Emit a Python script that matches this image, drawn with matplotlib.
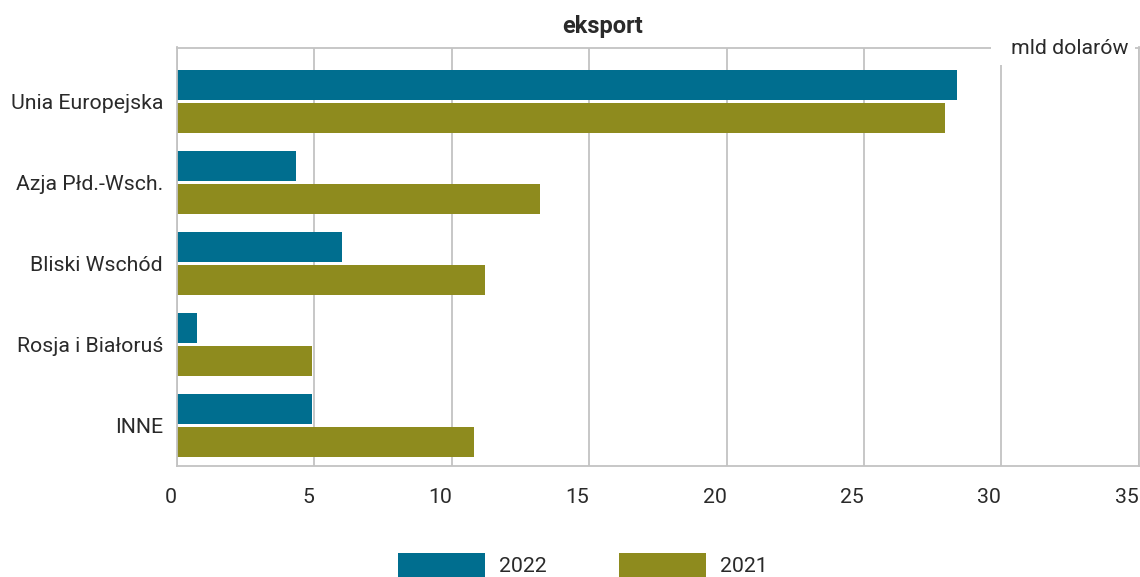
import matplotlib
matplotlib.use("Agg")
import matplotlib.pyplot as plt
from matplotlib.patches import Rectangle
import numpy as np

plt.rcParams['font.family'] = ['Roboto', 'DejaVu Sans']

categories = ["Unia Europejska", "Azja Płd.-Wsch.", "Bliski Wschód", "Rosja i Białoruś", "INNE"]
values_2022 = [28.4, 4.33, 6.0, 0.73, 4.9]
values_2021 = [27.95, 13.2, 11.2, 4.9, 10.8]
series_labels = ["2022", "2021"]
xticks = [0, 5, 10, 15, 20, 25, 30, 35]

c22 = "#006E8F"
c21 = "#8E8B1E"
grid_c = "#C3C3C3"
txt_c = "#2A2A2A"
fs = 15.3

W, H = 1140, 577
fig = plt.figure(figsize=(W / 100, H / 100), dpi=100)
ax = fig.add_axes([177 / W, 1 - 466 / H, (1138.7 - 177) / W, (466 - 47.5) / H])

y = np.arange(len(categories))
off = 0.204
h = 0.37
ax.barh(y - off, values_2022, height=h, color=c22, label=series_labels[0], zorder=2)
ax.barh(y + off, values_2021, height=h, color=c21, label=series_labels[1], zorder=2)

ax.set_ylim(4.5, -0.667)
ax.set_xlim(0, 35)
ax.set_xticks(xticks)
ax.set_xticklabels([str(t) for t in xticks], ha='right')
ax.set_yticks(y)
ax.set_yticklabels(categories)
ax.tick_params(axis='both', length=0, labelsize=fs, colors=txt_c)
ax.tick_params(axis='x', pad=15.5)
ax.tick_params(axis='y', pad=10)
ax.xaxis.grid(True, color=grid_c, linewidth=1.3, zorder=1)
ax.set_axisbelow(True)
for s in ax.spines.values():
    s.set_color(grid_c)
    s.set_linewidth(1.3)

fig.text(603 / W, 1 - 27 / H, "eksport", ha='center', va='center',
         fontsize=17, fontweight='bold', color=txt_c)

# white box behind unit label (covers top spine and gridline)
fig.patches.append(Rectangle((991 / W, 1 - 65 / H), (1135 - 991) / W, (65 - 28) / H,
                             transform=fig.transFigure, facecolor='white',
                             edgecolor='none', zorder=5))
fig.text(1070 / W, 1 - 48 / H, "mld dolarów", ha='center', va='center',
         fontsize=fs, color=txt_c, zorder=10)

leg = fig.legend(loc='center', bbox_to_anchor=(583 / W, 1 - 565 / H), ncol=2,
                 frameon=False, fontsize=fs, handlelength=4.1, handleheight=1.3,
                 handletextpad=0.66, columnspacing=3.4, borderpad=0)
for t in leg.get_texts():
    t.set_color(txt_c)

fig.savefig("out.png", dpi=100)
